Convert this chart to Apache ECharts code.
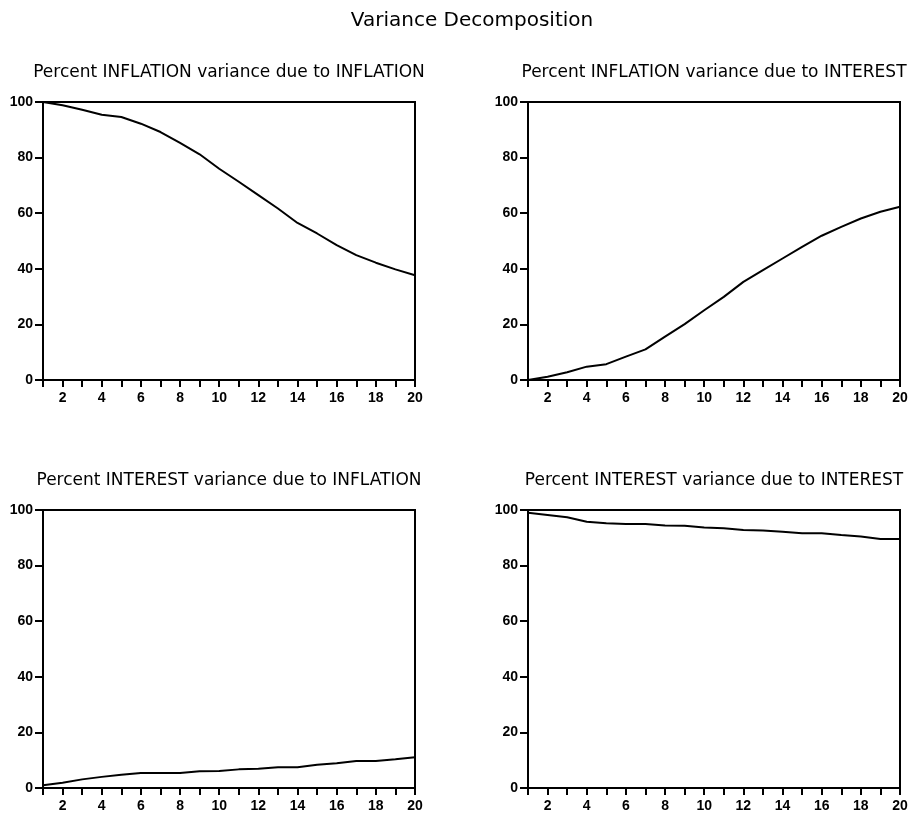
<!DOCTYPE html>
<html lang="en">
<head>
<meta charset="UTF-8">
<title>Variance Decomposition</title>
<script src="https://cdn.jsdelivr.net/npm/echarts@6/dist/echarts.min.js"></script>
<style>
    html, body { margin: 0; padding: 0; background: #fff; }
    #chart { width: 912px; height: 813px; }
</style>
</head>
<body>
<div id="chart"></div>
<script>
    // periods (horizon) and the four decomposition shares
    const periods = [1, 2, 3, 4, 5, 6, 7, 8, 9, 10, 11, 12, 13, 14, 15, 16, 17, 18, 19, 20];
    const inflDueInfl = [100, 98.8, 97.2, 95.4, 94.6, 92.2, 89.2, 85.3, 81.2, 76, 71.3, 66.5, 61.7, 56.5, 52.7, 48.5, 44.9, 42.2, 39.8, 37.7];
    const inflDueInt  = [0, 1.2, 2.8, 4.8, 5.7, 8.4, 11, 15.6, 20.1, 25.1, 29.9, 35.3, 39.5, 43.7, 47.9, 51.9, 55.1, 58.1, 60.5, 62.3];
    const intDueInfl  = [1, 1.9, 3.1, 4, 4.8, 5.4, 5.4, 5.4, 6, 6.1, 6.7, 6.9, 7.5, 7.5, 8.4, 8.9, 9.7, 9.7, 10.3, 11.1];
    const intDueInt   = [99, 98.2, 97.4, 95.8, 95.2, 95, 95, 94.4, 94.3, 93.7, 93.4, 92.8, 92.6, 92.2, 91.6, 91.6, 91, 90.5, 89.6, 89.6];

    const panelTitles = [
        'Percent INFLATION variance due to INFLATION',
        'Percent INFLATION variance due to INTEREST',
        'Percent INTEREST variance due to INFLATION',
        'Percent INTEREST variance due to INTEREST'
    ];
    const panelData = [inflDueInfl, inflDueInt, intDueInfl, intDueInt];

    const font = 'Liberation Sans, Arial, sans-serif';
    const titleFont = 'DejaVu Sans, sans-serif';
    const boxes = [
        { left: 43, top: 102 },
        { left: 528, top: 102 },
        { left: 43, top: 510 },
        { left: 528, top: 510 }
    ];
    const W = 372, H = 278;

    const titles = [{
        text: 'Variance Decomposition',
        left: 472, top: 11, textAlign: 'center', padding: 0,
        textStyle: { fontFamily: titleFont, fontSize: 20, fontWeight: 'normal', color: '#000' }
    }];
    boxes.forEach((b, i) => {
        titles.push({
            text: panelTitles[i],
            left: b.left + W / 2, top: b.top - 38, textAlign: 'center', padding: 0,
            textStyle: { fontFamily: titleFont, fontSize: 17, fontWeight: 'normal', color: '#000' }
        });
    });

    const option = {
        animation: false,
        backgroundColor: '#fff',
        title: titles,
        grid: boxes.map(b => ({
            left: b.left, top: b.top, width: W, height: H,
            show: true, borderColor: '#000', borderWidth: 2, backgroundColor: '#fff'
        })),
        xAxis: boxes.map((b, i) => ({
            type: 'category', gridIndex: i, data: periods, boundaryGap: false,
            axisLine: { lineStyle: { color: '#000', width: 2 } },
            axisTick: { interval: 0, length: 7, lineStyle: { color: '#000', width: 2 } },
            axisLabel: {
                interval: (idx, v) => Number(v) % 2 === 0,
                margin: 11, color: '#000', fontFamily: font, fontSize: 14, fontWeight: 'bold'
            },
            splitLine: { show: false }
        })),
        yAxis: boxes.map((b, i) => ({
            type: 'value', gridIndex: i, min: 0, max: 100, interval: 20,
            axisLine: { show: true, lineStyle: { color: '#000', width: 2 } },
            axisTick: { show: true, length: 8, lineStyle: { color: '#000', width: 2 } },
            axisLabel: { margin: 10, color: '#000', fontFamily: font, fontSize: 14, fontWeight: 'bold' },
            splitLine: { show: false }
        })),
        series: panelData.map((d, i) => ({
            type: 'line', xAxisIndex: i, yAxisIndex: i, data: d,
            showSymbol: false, silent: true,
            lineStyle: { color: '#000', width: 2 }
        }))
    };

    const chart = echarts.init(document.getElementById('chart'));
    chart.setOption(option);
</script>
</body>
</html>
